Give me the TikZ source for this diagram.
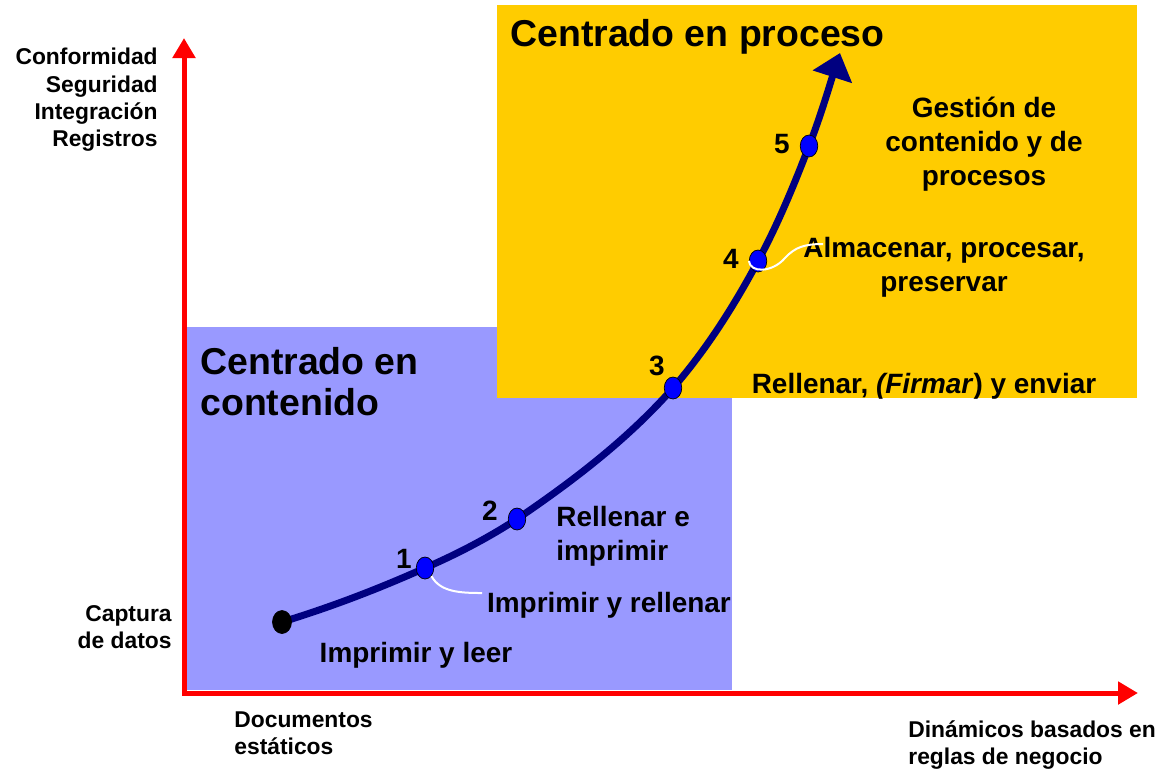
\documentclass[tikz,border=0pt]{standalone}
\usepackage{fontspec}
\setmainfont{Liberation Sans}
\usetikzlibrary{shapes.geometric,arrows.meta}
\definecolor{lila}{HTML}{9999FF}
\definecolor{oro}{HTML}{FFCC00}
\definecolor{marino}{HTML}{000080}
\tikzstyle{axis} = [line width=0.1cm,red,{Triangle[width=0.44cm,length=0.4cm]}-{Triangle[width=0.44cm,length=0.4cm]}]
\tikzstyle{curve} = [line width=0.14cm,marino,-{Triangle[width=0.8cm,length=0.5cm]}]
\tikzstyle{dot} = [ellipse,draw=black,fill=blue,line width=0.4pt,minimum width=0.35cm,minimum height=0.44cm,inner sep=0pt]
\tikzstyle{callout} = [white,line width=0.04cm]
\tikzstyle{titulo} = [font=\fontsize{21.3}{23.2}\selectfont\bfseries,inner sep=0pt,align=left]
\tikzstyle{lbl} = [font=\fontsize{15.9}{19.3}\selectfont\bfseries,inner sep=0pt]
\tikzstyle{eje} = [font=\fontsize{13}{15.6}\selectfont\bfseries,inner sep=0pt]

\begin{document}
\begin{tikzpicture}[x=0.02cm,y=-0.02cm]
\useasboundingbox (0,0) rectangle (1165,769);

% zonas
\fill[lila] (187,327) rectangle (732,690);
\fill[oro] (497,5) rectangle (1137,398);

\node[titulo,anchor=base west] (proceso) at (510,46) {Centrado en proceso};
\node[titulo,anchor=north west] (contenido) at (200,347) {Centrado en\\contenido};

% ejes
\coordinate (origen) at (184,693);
\coordinate (ytop) at (184,38);
\coordinate (xend) at (1138,693);
\draw[axis] (ytop) -- (origen) -- (xend);

% curva
\coordinate (p0) at (282,622);
\foreach \n/\x/\y in {1/425/568,2/517/519,3/673/388,4/758/261,5/809/146} {
\coordinate (p\n) at (\x,\y);
}
\coordinate (tip) at (840,53);
\draw[curve] (p0) .. controls (331,607) and (378,589) .. (p1)
  .. controls (457,554) and (488,538) .. (p2)
  .. controls (573,481) and (628,439) .. (p3)
  .. controls (706,350) and (734,306) .. (p4)
  .. controls (778,224) and (794,185) .. (p5)
  .. controls (821,115) and (830,84) .. (tip);

\node[dot,fill=black,minimum width=0.38cm,minimum height=0.46cm] (d0) at (p0) {};
\foreach \n/\nx/\ny in {1/404/568,2/490/520,3/657/375,4/731/268,5/782/153} {
\node[dot] (d\n) at (p\n) {};
\node[lbl,anchor=base] (n\n) at (\nx,\ny) {\n};
}

% etiquetas
\node[lbl,anchor=base] (leer) at (416,662) {Imprimir y leer};
\node[lbl,anchor=base] (rellenar) at (609,612) {Imprimir y rellenar};
\node[lbl,anchor=west,align=left] (imprimir) at (556,536) {Rellenar e\\imprimir};
\node[lbl,anchor=base] (enviar) at (924,393) {Rellenar, \textit{(Firmar})\ y enviar};
\node[lbl,align=center] (almacenar) at (944,267) {Almacenar, procesar,\\preservar};
\node[lbl,align=center] (gestion) at (984,144) {Gestión de\\contenido y de\\procesos};

\coordinate (c1) at (482,593);
\coordinate (c4) at (823,244);
\draw[callout] (d1.south east) .. controls (440,592) and (460,593) .. (c1);
\draw[callout] (d4.west) .. controls (750,273) and (772,273) .. (785,258) .. controls (795,247) and (805,244) .. (c4);

\node[eje,anchor=east,align=right] (calidad) at (158,100) {Conformidad\\Seguridad\\Integración\\Registros};
\node[eje,anchor=east,align=right] (captura) at (172,627) {Captura\\de datos};
\node[eje,anchor=west,align=left] (estaticos) at (234,733) {Documentos\\estáticos};
\node[eje,anchor=west,align=left] (dinamicos) at (908,745) {Dinámicos basados en\\reglas de negocio};
\end{tikzpicture}
\end{document}
